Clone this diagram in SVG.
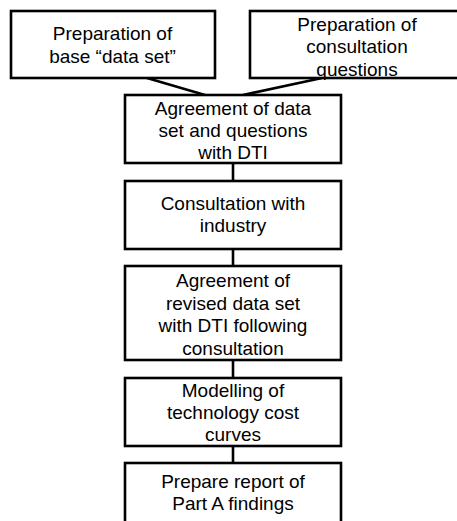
<svg xmlns="http://www.w3.org/2000/svg" width="457" height="521" viewBox="0 0 457 521">
<style>
.box{fill:#fff;stroke:#000;stroke-width:2.6}
.lbl{font-family:"Liberation Sans",Arial,sans-serif;font-size:19px;fill:#000;text-anchor:middle}
.con{stroke:#000;stroke-width:2.6;fill:none}
</style>
<rect width="457" height="521" fill="#fff"/>
<g id="connectors">
<line class="con" x1="147" y1="78" x2="205" y2="95"/>
<line class="con" x1="322" y1="78" x2="243" y2="95"/>
<line class="con" x1="233" y1="163" x2="233" y2="181"/>
<line class="con" x1="233" y1="249" x2="233" y2="266"/>
<line class="con" x1="233" y1="360" x2="233" y2="378"/>
<line class="con" x1="233" y1="446" x2="233" y2="463"/>
</g>
<g id="n1">
<rect class="box" x="11" y="11" width="204" height="67"/>
<text class="lbl" x="112.5" y="40">Preparation of</text>
<text class="lbl" x="112.5" y="62.5">base “data set”</text>
</g>
<g id="n2">
<rect class="box" x="250" y="11" width="216" height="67"/>
<text class="lbl" x="357" y="30.5">Preparation of</text>
<text class="lbl" x="357" y="53">consultation</text>
<text class="lbl" x="357" y="75.5">questions</text>
</g>
<g id="n3">
<rect class="box" x="125" y="95" width="216" height="68"/>
<text class="lbl" x="233" y="114.5">Agreement of data</text>
<text class="lbl" x="233" y="137">set and questions</text>
<text class="lbl" x="233" y="159">with DTI</text>
</g>
<g id="n4">
<rect class="box" x="125" y="181" width="216" height="68"/>
<text class="lbl" x="233" y="209.5">Consultation with</text>
<text class="lbl" x="233" y="232">industry</text>
</g>
<g id="n5">
<rect class="box" x="125" y="266" width="216" height="94"/>
<text class="lbl" x="233" y="287">Agreement of</text>
<text class="lbl" x="233" y="309.5">revised data set</text>
<text class="lbl" x="233" y="332">with DTI following</text>
<text class="lbl" x="233" y="354.5">consultation</text>
</g>
<g id="n6">
<rect class="box" x="125" y="378" width="216" height="68"/>
<text class="lbl" x="233" y="397">Modelling of</text>
<text class="lbl" x="233" y="419">technology cost</text>
<text class="lbl" x="233" y="441">curves</text>
</g>
<g id="n7">
<rect class="box" x="125" y="463" width="216" height="70"/>
<text class="lbl" x="233" y="488">Prepare report of</text>
<text class="lbl" x="233" y="510">Part A findings</text>
</g>
</svg>
